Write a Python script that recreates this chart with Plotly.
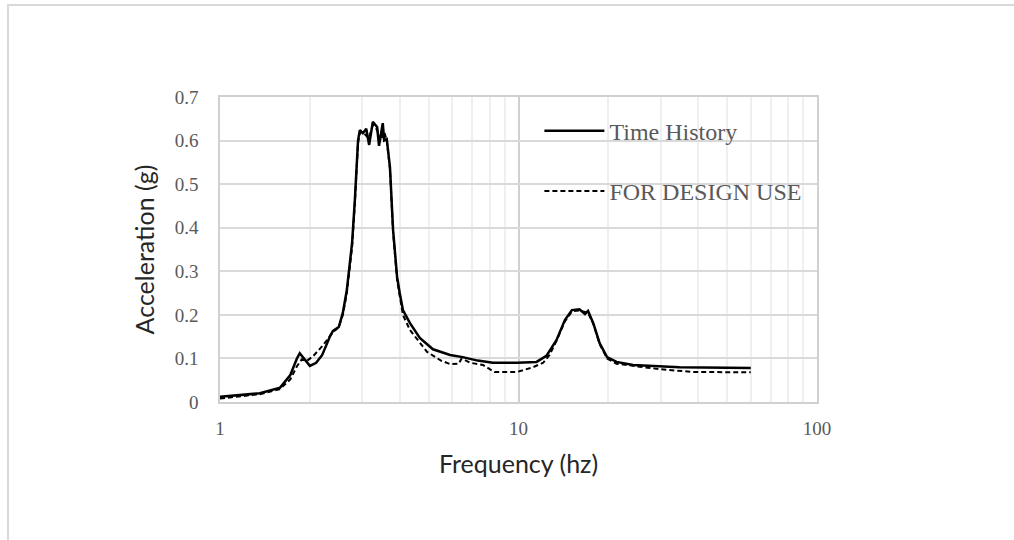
import plotly.graph_objects as go

# Time History (solid)
th_freq = [1.00, 1.36, 1.59, 1.72, 1.81, 1.85, 1.92, 2.00, 2.10, 2.20, 2.34, 2.39, 2.50, 2.58,
           2.66, 2.77, 2.83, 2.90, 2.94, 3.01, 3.05, 3.09, 3.16, 3.25, 3.36, 3.41, 3.51, 3.55,
           3.62, 3.71, 3.80, 3.92, 4.00, 4.10, 4.33, 4.67, 5.17, 5.90, 6.50, 7.30, 8.20, 9.90,
           11.5, 12.4, 13.4, 14.3, 15.1, 16.0, 16.7, 17.1, 17.8, 18.7, 19.8, 21.3, 24.2, 34.6, 60.0]
th_acc = [0.012, 0.020, 0.033, 0.062, 0.100, 0.112, 0.098, 0.083, 0.090, 0.108, 0.152, 0.163, 0.172, 0.205,
          0.257, 0.365, 0.464, 0.600, 0.624, 0.617, 0.622, 0.627, 0.590, 0.643, 0.631, 0.588, 0.640, 0.600,
          0.603, 0.539, 0.395, 0.287, 0.250, 0.211, 0.181, 0.147, 0.121, 0.108, 0.103, 0.095, 0.090, 0.090,
          0.092, 0.106, 0.142, 0.188, 0.211, 0.213, 0.202, 0.209, 0.181, 0.135, 0.103, 0.092, 0.085, 0.080, 0.078]

# FOR DESIGN USE (dashed)
du_freq = [1.00, 1.36, 1.59, 1.72, 1.81, 1.88, 1.95, 2.05, 2.20, 2.39, 2.50, 2.58, 2.66, 2.77, 2.83,
           2.90, 2.95, 3.05, 3.15, 3.25, 3.36, 3.45, 3.55, 3.62, 3.71, 3.80, 3.92, 4.10, 4.33, 4.94,
           5.50, 5.90, 6.30, 6.45, 6.90, 7.60, 8.30, 9.90, 11.2, 12.1, 12.7, 13.4, 14.3, 15.1, 16.0,
           17.1, 17.8, 18.7, 19.8, 21.3, 24.2, 30.0, 38.5, 60.0]
du_acc = [0.008, 0.018, 0.030, 0.052, 0.082, 0.098, 0.094, 0.105, 0.128, 0.160, 0.172, 0.200, 0.250, 0.355, 0.455,
          0.595, 0.620, 0.615, 0.605, 0.635, 0.625, 0.600, 0.620, 0.600, 0.535, 0.390, 0.280, 0.200, 0.165, 0.115,
          0.095, 0.087, 0.088, 0.100, 0.090, 0.085, 0.069, 0.069, 0.080, 0.090, 0.108, 0.140, 0.185, 0.208, 0.210,
          0.205, 0.180, 0.133, 0.100, 0.088, 0.083, 0.075, 0.069, 0.068]

x_tickvals = [1, 10, 100]
x_ticktext = ["1", "10", "100"]
y_tickvals = [0, 0.1, 0.2, 0.3, 0.4, 0.5, 0.6, 0.7]
y_ticktext = ["0", "0.1", "0.2", "0.3", "0.4", "0.5", "0.6", "0.7"]

serif = "Liberation Serif, Times New Roman, serif"
sans = "Lato, Open Sans, sans-serif"

fig = go.Figure()
fig.add_trace(go.Scatter(x=th_freq, y=th_acc, mode="lines", name="Time History",
                         legendgroup="a", line=dict(color="black", width=2.5)))
fig.add_trace(go.Scatter(x=du_freq, y=du_acc, mode="lines", name="FOR DESIGN USE",
                         legendgroup="b", line=dict(color="black", width=2, dash="5px,3px")))

fig.update_layout(
    width=1014, height=540,
    margin=dict(l=220, r=197, t=97, b=138),
    paper_bgcolor="white", plot_bgcolor="white",
    showlegend=True,
    legend=dict(x=0.535, y=0.962, xanchor="left", yanchor="top",
                font=dict(family=serif, size=24, color="#595959"),
                bgcolor="rgba(0,0,0,0)", tracegroupgap=26, itemwidth=60,
                traceorder="grouped"),
    xaxis=dict(type="log", range=[0, 2], tickvals=x_tickvals, ticktext=x_ticktext,
               showgrid=True, gridcolor="#d0d0d0", gridwidth=1.5,
               minor=dict(showgrid=True, dtick="D1", gridcolor="#efefef", gridwidth=1.5),
               showline=True, linecolor="#d0d0d0", linewidth=1.5, mirror=True,
               ticks="", ticklabelstandoff=8,
               tickfont=dict(family=serif, size=19, color="#595959"),
               title=dict(text="Frequency (hz)", font=dict(family=sans, size=25, color="#262626"),
                          standoff=18),
               zeroline=False),
    yaxis=dict(range=[0, 0.7], tickvals=y_tickvals, ticktext=y_ticktext,
               showgrid=True, gridcolor="#d9d9d9", gridwidth=1.5,
               showline=True, linecolor="#d0d0d0", linewidth=1.5, mirror=True,
               ticks="", ticklabelstandoff=16,
               tickfont=dict(family=serif, size=19, color="#595959"),
               title=dict(text="Acceleration (g)", font=dict(family=sans, size=25, color="#262626"),
                          standoff=13),
               zeroline=False),
)

# outer chart border
fig.add_shape(type="rect", xref="paper", yref="paper",
              x0=(8 - 220) / 597, x1=(1030 - 220) / 597,
              y0=(402 - 560) / 305, y1=(402 - 5) / 305,
              line=dict(color="#d9d9d9", width=2), fillcolor="rgba(0,0,0,0)", layer="below")

fig.write_html("out.html", config={"displayModeBar": False},
               post_script="document.body.style.margin='0px';")
